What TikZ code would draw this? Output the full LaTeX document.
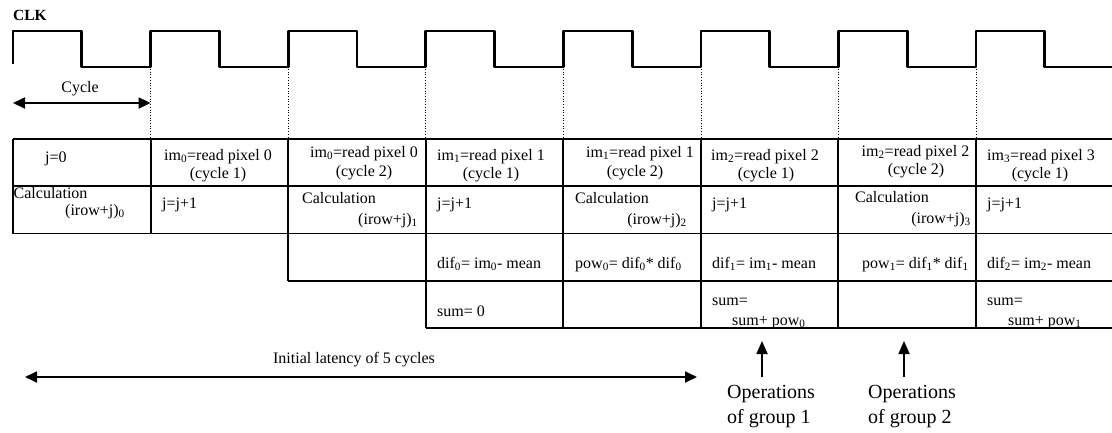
\documentclass[tikz,border=0pt]{standalone}
\usepackage{fontspec}
\setmainfont{Liberation Serif}
\usetikzlibrary{arrows.meta}
\begin{document}
\begin{tikzpicture}[x=1pt,y=-1pt,
  txt/.style={inner sep=0pt, font=\fontsize{16}{18}\selectfont},
  big/.style={inner sep=0pt, font=\fontsize{20}{25}\selectfont},
  clklabel/.style={inner sep=0pt, font=\fontsize{15.5}{18}\selectfont\bfseries},
  gridline/.style={line width=1.9pt},
  clkline/.style={line width=2.8pt, line join=round},
  guide/.style={line width=0.7pt, dotted},
  dimarrow/.style={line width=1.8pt, {Triangle[length=12pt,width=11pt]}-{Triangle[length=12pt,width=11pt]}},
  uparrow/.style={line width=1.8pt, -{Triangle[length=13pt,width=11pt]}}]
\useasboundingbox (0,0) rectangle (1112,432);
% clock
\node[clklabel,anchor=base west] (clk) at (13,20) {CLK};
\draw[clkline] (13,64) -- (13,31) -- (81.8,31) -- (81.8,67) -- (150.6,67) -- (150.6,31)
  -- (219.4,31) -- (219.4,67) -- (288.1,67) -- (288.1,31) -- (356.9,31) -- (356.9,67)
  -- (425.7,67) -- (425.7,31) -- (494.5,31) -- (494.5,67) -- (563.3,67) -- (563.3,31)
  -- (632.1,31) -- (632.1,67) -- (700.9,67) -- (700.9,31) -- (769.6,31) -- (769.6,67)
  -- (838.4,67) -- (838.4,31) -- (907.2,31) -- (907.2,67) -- (976,67) -- (976,31)
  -- (1044.8,31) -- (1044.8,67) -- (1112,67);
\foreach \x in {150.6,288.1,425.7,563.3,700.9,838.4,976}
  \draw[guide] (\x,69) -- (\x,139);
% cycle arrow
\coordinate (cycL) at (13,103);
\coordinate (cycR) at (150.6,103);
\draw[dimarrow] (cycL) -- (cycR);
\node[txt,anchor=base] (cyc) at (80,92) {Cycle};
% table
\draw[gridline] (13,139) -- (1112,139);
\draw[gridline] (13,186) -- (1112,186);
\draw[gridline] (13,233.5) -- (1112,233.5);
\draw[gridline] (288.1,281) -- (1112,281);
\draw[gridline] (425.7,328) -- (1112,328);
\draw[gridline] (13,139) -- (13,233.5);
\draw[gridline] (150.6,139) -- (150.6,233.5);
\draw[gridline] (288.1,139) -- (288.1,281);
\foreach \x in {425.7,563.3,700.9,838.4,976}
  \draw[gridline] (\x,139) -- (\x,328);
% row 1
\node[txt,anchor=base west] (a0) at (45,162) {j=0};
\node[txt,anchor=base] (a1) at (218,160) {im\textsubscript{0}=read pixel 0};
\node[txt,anchor=base] (a1b) at (218,178) {(cycle 1)};
\node[txt,anchor=base] (a2) at (364,157) {im\textsubscript{0}=read pixel 0};
\node[txt,anchor=base] (a2b) at (364,176) {(cycle 2)};
\node[txt,anchor=base] (a3) at (491,160) {im\textsubscript{1}=read pixel 1};
\node[txt,anchor=base] (a3b) at (491,178) {(cycle 1)};
\node[txt,anchor=base] (a4) at (640,157) {im\textsubscript{1}=read pixel 1};
\node[txt,anchor=base] (a4b) at (635,176) {(cycle 2)};
\node[txt,anchor=base] (a5) at (765,160) {im\textsubscript{2}=read pixel 2};
\node[txt,anchor=base] (a5b) at (766,178) {(cycle 1)};
\node[txt,anchor=base] (a6) at (915.5,156) {im\textsubscript{2}=read pixel 2};
\node[txt,anchor=base] (a6b) at (916,174) {(cycle 2)};
\node[txt,anchor=base] (a7) at (1041,160) {im\textsubscript{3}=read pixel 3};
\node[txt,anchor=base] (a7b) at (1040,178) {(cycle 1)};
% row 2
\node[txt,anchor=base west] (b0) at (13.5,198) {Calculation};
\node[txt,anchor=base west] (b0b) at (65,215) {(irow+j)\textsubscript{0}};
\node[txt,anchor=base west] (b1) at (162,208) {j=j+1};
\node[txt,anchor=base west] (b2) at (302,203) {Calculation};
\node[txt,anchor=base east] (b2b) at (418,224) {(irow+j)\textsubscript{1}};
\node[txt,anchor=base west] (b3) at (437,208) {j=j+1};
\node[txt,anchor=base west] (b4) at (575,203) {Calculation};
\node[txt,anchor=base east] (b4b) at (687,224) {(irow+j)\textsubscript{2}};
\node[txt,anchor=base west] (b5) at (712,208) {j=j+1};
\node[txt,anchor=base west] (b6) at (855,202) {Calculation};
\node[txt,anchor=base east] (b6b) at (971,223) {(irow+j)\textsubscript{3}};
\node[txt,anchor=base west] (b7) at (987,208) {j=j+1};
% row 3
\node[txt,anchor=base west] (c3) at (437,268) {dif\textsubscript{0}= im\textsubscript{0}- mean};
\node[txt,anchor=base west] (c4) at (575,268) {pow\textsubscript{0}= dif\textsubscript{0}* dif\textsubscript{0}};
\node[txt,anchor=base west] (c5) at (712,268) {dif\textsubscript{1}= im\textsubscript{1}- mean};
\node[txt,anchor=base west] (c6) at (862,268) {pow\textsubscript{1}= dif\textsubscript{1}* dif\textsubscript{1}};
\node[txt,anchor=base west] (c7) at (987,268) {dif\textsubscript{2}= im\textsubscript{2}- mean};
% row 4
\node[txt,anchor=base west] (d3) at (437,316) {sum= 0};
\node[txt,anchor=base west] (d5) at (712,305) {sum=};
\node[txt,anchor=base west] (d5b) at (732,325) {sum+ pow\textsubscript{0}};
\node[txt,anchor=base west] (d7) at (987,305) {sum=};
\node[txt,anchor=base west] (d7b) at (1008,325) {sum+ pow\textsubscript{1}};
% latency arrow
\coordinate (latL) at (25,377);
\coordinate (latR) at (697,377);
\draw[dimarrow] (latL) -- (latR);
\node[txt,anchor=base] (lat) at (354,363) {Initial latency of 5 cycles};
% group arrows
\coordinate (g1b) at (762,377);
\coordinate (g1t) at (762,341);
\draw[uparrow] (g1b) -- (g1t);
\coordinate (g2b) at (904,377);
\coordinate (g2t) at (904,341);
\draw[uparrow] (g2b) -- (g2t);
\node[big,anchor=base west] (o1) at (727,398) {Operations};
\node[big,anchor=base west] (o1b) at (727,423) {of group 1};
\node[big,anchor=base west] (o2) at (868,398) {Operations};
\node[big,anchor=base west] (o2b) at (868,423) {of group 2};
\end{tikzpicture}
\end{document}
